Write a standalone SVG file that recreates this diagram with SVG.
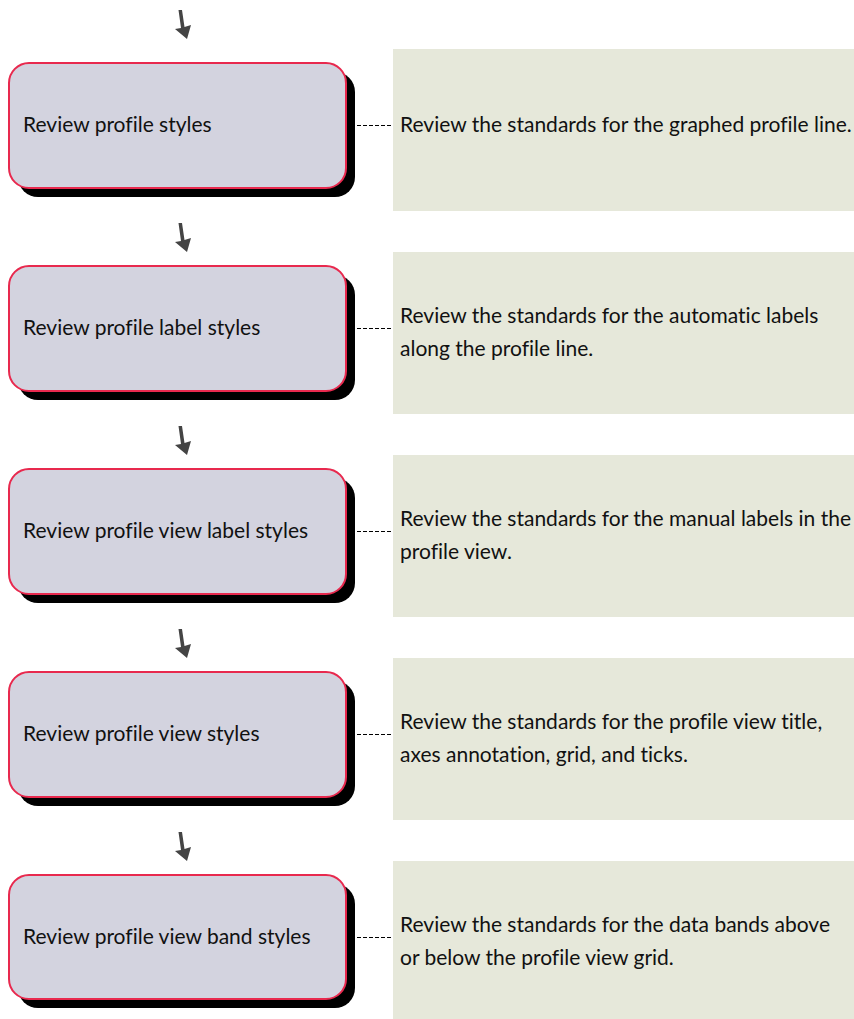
<svg xmlns="http://www.w3.org/2000/svg" width="854" height="1019" viewBox="0 0 854 1019">
<defs>
<style>
.shadow{fill:#000}
.box{fill:#d3d3df;stroke:#e8294e;stroke-width:2}
.panel{fill:#e6e8da}
.t{font-family:Lato,"Open Sans",sans-serif;font-size:21px;fill:#111;font-variant-ligatures:none}
.conn{stroke:#000;stroke-width:1;stroke-dasharray:4,2;fill:none}
.arrow{fill:#444}
</style>
<g id="arrowshape"><path d="M178.5,10 L182,10 L184.5,27 L191,25 L187,39 L175,29 L181,28 Z"/></g>
</defs>
<g id="connectors">
<use href="#arrowshape" class="arrow"/>
<use href="#arrowshape" class="arrow" transform="translate(0,213)"/>
<use href="#arrowshape" class="arrow" transform="translate(0,416)"/>
<use href="#arrowshape" class="arrow" transform="translate(0,619)"/>
<use href="#arrowshape" class="arrow" transform="translate(0,822)"/>
<line class="conn" x1="357" y1="125.5" x2="392" y2="125.5"/>
<line class="conn" x1="357" y1="328.5" x2="392" y2="328.5"/>
<line class="conn" x1="357" y1="531.5" x2="392" y2="531.5"/>
<line class="conn" x1="357" y1="734.5" x2="392" y2="734.5"/>
<line class="conn" x1="357" y1="937.5" x2="392" y2="937.5"/>
</g>
<g id="node1">
<rect class="shadow" x="18" y="72" width="337" height="125" rx="20"/>
<rect class="box" x="9" y="63" width="337" height="125" rx="20"/>
<text class="t" x="23" y="132">Review profile styles</text>
</g>
<g id="note1">
<rect class="panel" x="393" y="49" width="461" height="162"/>
<text class="t" x="400" y="132">Review the standards for the graphed profile line.</text>
</g>
<g id="node2">
<rect class="shadow" x="18" y="275" width="337" height="125" rx="20"/>
<rect class="box" x="9" y="266" width="337" height="125" rx="20"/>
<text class="t" x="23" y="335">Review profile label styles</text>
</g>
<g id="note2">
<rect class="panel" x="393" y="252" width="461" height="162"/>
<text class="t" x="400" y="323">Review the standards for the automatic labels</text>
<text class="t" x="400" y="356">along the profile line.</text>
</g>
<g id="node3">
<rect class="shadow" x="18" y="478" width="337" height="125" rx="20"/>
<rect class="box" x="9" y="469" width="337" height="125" rx="20"/>
<text class="t" x="23" y="538">Review profile view label styles</text>
</g>
<g id="note3">
<rect class="panel" x="393" y="455" width="461" height="162"/>
<text class="t" x="400" y="526">Review the standards for the manual labels in the</text>
<text class="t" x="400" y="559">profile view.</text>
</g>
<g id="node4">
<rect class="shadow" x="18" y="681" width="337" height="125" rx="20"/>
<rect class="box" x="9" y="672" width="337" height="125" rx="20"/>
<text class="t" x="23" y="741">Review profile view styles</text>
</g>
<g id="note4">
<rect class="panel" x="393" y="658" width="461" height="162"/>
<text class="t" x="400" y="729">Review the standards for the profile view title,</text>
<text class="t" x="400" y="762">axes annotation, grid, and ticks.</text>
</g>
<g id="node5">
<rect class="shadow" x="18" y="884" width="337" height="124" rx="20"/>
<rect class="box" x="9" y="875" width="337" height="124" rx="20"/>
<text class="t" x="23" y="944">Review profile view band styles</text>
</g>
<g id="note5">
<rect class="panel" x="393" y="861" width="461" height="158"/>
<text class="t" x="400" y="932">Review the standards for the data bands above</text>
<text class="t" x="400" y="965">or below the profile view grid.</text>
</g>
</svg>
